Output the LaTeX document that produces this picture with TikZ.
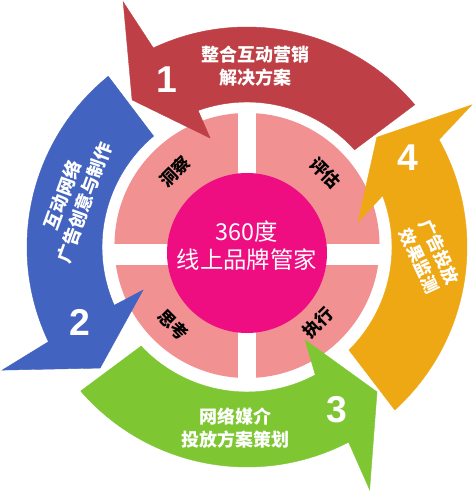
\documentclass[tikz,border=0pt]{standalone}
\usepackage{fontspec}
\setmainfont{Liberation Sans}
\newfontfamily\cjk{Noto Sans CJK SC}
\newfontfamily\numfont{Liberation Sans}
\definecolor{redA}{RGB}{190,64,70}
\definecolor{blueA}{RGB}{67,99,192}
\definecolor{greenA}{RGB}{126,199,51}
\definecolor{orangeA}{RGB}{238,168,20}
\definecolor{salmonA}{RGB}{242,145,145}
\definecolor{magentaA}{RGB}{238,14,130}
\def\Ro{165pt}
\def\Ri{108.75pt}
\begin{document}
\begin{tikzpicture}[x=0.75pt,y=0.75pt,
  arrowlbl/.style={text=white, font=\cjk\bfseries\fontsize{13.5}{17.25}\selectfont, align=center, inner sep=0pt},
  centerlbl/.style={text=white, font=\cjk\fontsize{17.5}{21}\selectfont, align=center, inner sep=0pt},
  numlbl/.style={text=white, font=\numfont\bfseries\fontsize{28}{30}\selectfont, inner sep=0pt},
  quadlbl/.style={text=black, font=\cjk\bfseries\fontsize{13}{15}\selectfont, inner sep=0pt},
  ring/.style={draw=#1, line width=0.3pt, fill=#1}]
\useasboundingbox (-247,-246) rectangle (228,247);
\fill[white] (-247,-246) rectangle (228,247);

% inner salmon disk with white cross
\fill[salmonA] (0,1.5) circle[radius=99.4pt];
\fill[white] (-9,-136) rectangle (9,139);
\fill[white] (-136,-18) rectangle (136,3);
\fill[magentaA] (0,-6) circle[radius=60pt];

% red arrow (1)
\path[ring=redA] (40.3:220) arc[start angle=40.3, end angle=115.2, radius=\Ro]
  -- (116.8:274.6) -- (128:186.6) -- (108.7:115) -- (109.7:145)
  arc[start angle=109.7, end angle=42.1, radius=\Ri] -- cycle;
% blue arrow (2)
\path[ring=blueA] (129.1:220) arc[start angle=129.1, end angle=205.5, radius=\Ro]
  -- (206.7:274) -- (219.5:190.4) -- (202.5:112.5) -- (203.7:145)
  arc[start angle=203.7, end angle=130.1, radius=\Ri] -- cycle;
% green arrow (3)
\path[ring=greenA] (220.9:220) arc[start angle=220.9, end angle=297.5, radius=\Ro]
  -- (296.8:272) -- (311.9:194.7) -- (302:109.6) -- (298.1:145)
  arc[start angle=298.1, end angle=223.1, radius=\Ri] -- cycle;
% orange arrow (4)
\path[ring=orangeA] (-47.8:220) arc[start angle=-47.8, end angle=29.2, radius=\Ro]
  -- (32.3:266) -- (40.2:170) -- (12.7:113.8) -- (20.7:145)
  arc[start angle=20.7, end angle=-45.3, radius=\Ri] -- cycle;

% centre text
\node[centerlbl] (core) at (0,1) {360度\\线上品牌管家};

% quadrant labels
\node[quadlbl, rotate=45]  (q1) at (-72,75)  {洞察};
\node[quadlbl, rotate=-45] (q2) at (78,74)   {评估};
\node[quadlbl, rotate=-45] (q3) at (-74,-78) {思考};
\node[quadlbl, rotate=45]  (q4) at (71,-76)  {执行};

% arrow labels
\node[arrowlbl] (t1) at (9,180.5) {整合互动营销\\解决方案};
\node[numlbl] (n1) at (-80,167) {1};
\node[arrowlbl, rotate=70] (t2) at (-173.5,48) {互动网络\\广告创意与制作};
\node[numlbl] (n2) at (-167,-75) {2};
\node[arrowlbl] (t3) at (-11,-181.5) {网络媒介\\投放方案策划};
\node[numlbl] (n3) at (90,-163) {3};
\node[arrowlbl, font=\cjk\bfseries\fontsize{13}{16.5}\selectfont, rotate=-65] (t4) at (182.5,-9.5) {广告投放\\效果监测};
\node[numlbl] (n4) at (161,89) {4};
\end{tikzpicture}
\end{document}
